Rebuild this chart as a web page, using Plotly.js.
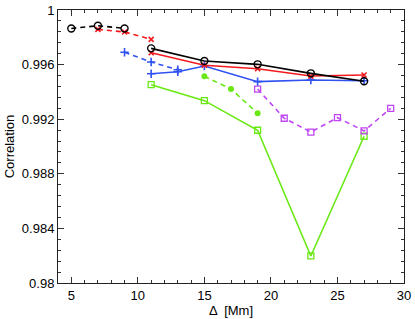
<!DOCTYPE html>
<html>
<head>
<meta charset="utf-8">
<script src="https://cdn.plot.ly/plotly-3.0.1.min.js"></script>
<style>html,body{margin:0;padding:0;background:#fff;}#chart{width:415px;height:319px;}</style>
</head>
<body>
<div id="chart"></div>
<script>
// Data
const blackDashX = [5, 7, 9];
const blackDashY = [0.99865, 0.99885, 0.99865];
const blackSolidX = [11, 15, 19, 23, 27];
const blackSolidY = [0.99719, 0.99626, 0.99602, 0.99536, 0.99478];

const redDashX = [7, 9, 11];
const redDashY = [0.99858, 0.99839, 0.99785];
const redSolidX = [11, 15, 19, 23, 27];
const redSolidY = [0.99687, 0.99595, 0.99570, 0.99516, 0.99524];

const blueDashX = [9, 11, 13];
const blueDashY = [0.99690, 0.99619, 0.99562];
const blueSolidX = [11, 13, 15, 19, 23, 27];
const blueSolidY = [0.99533, 0.99548, 0.99590, 0.99475, 0.99487, 0.99482];

const greenDashX = [15, 17, 19];
const greenDashY = [0.99514, 0.99421, 0.99243];
const greenSolidX = [11, 15, 19, 23, 27];
const greenSolidY = [0.99453, 0.99336, 0.99119, 0.98198, 0.99075];

const purpleDashX = [19, 21, 23, 25, 27, 29];
const purpleDashY = [0.99421, 0.99207, 0.99106, 0.99211, 0.99114, 0.99280];

const xTicks = [5, 10, 15, 20, 25, 30];
const yTicks = [0.98, 0.984, 0.988, 0.992, 0.996, 1];
const yTickText = ['0.98', '0.984', '0.988', '0.992', '0.996', '1'];

const BLACK = '#000000', RED = '#f5191e', BLUE = '#2f52f0', GREEN = '#6ae814', PURPLE = '#bf45f5';
const DASH = '5px,4px';

function tr(x, y, color, dash, symbol, msize, mlw) {
  return {
    x: x, y: y, type: 'scatter', mode: 'lines+markers',
    line: {color: color, width: 1.6, dash: dash},
    marker: {symbol: symbol, size: msize, color: color, line: {color: color, width: mlw}},
    showlegend: false, hoverinfo: 'skip'
  };
}

const data = [
  tr(greenSolidX, greenSolidY, GREEN, 'solid', 'square-open', 6, 1.3),
  tr(greenDashX, greenDashY, GREEN, DASH, 'circle', 6, 0),
  tr(purpleDashX, purpleDashY, PURPLE, DASH, 'square-open', 6, 1.3),
  tr(blueSolidX, blueSolidY, BLUE, 'solid', 'cross-thin-open', 6, 1.6),
  tr(blueDashX, blueDashY, BLUE, DASH, 'cross-thin-open', 6, 1.6),
  tr(redSolidX, redSolidY, RED, 'solid', 'x-thin-open', 5, 1.6),
  tr(redDashX, redDashY, RED, DASH, 'x-thin-open', 5, 1.6),
  tr(blackSolidX, blackSolidY, BLACK, 'solid', 'circle-open', 7, 1.4),
  tr(blackDashX, blackDashY, BLACK, DASH, 'circle-open', 7, 1.4)
];

const font = {family: 'Liberation Sans, Arial, sans-serif', size: 13, color: '#000'};

const layout = {
  width: 415, height: 319,
  margin: {l: 58, r: 11, t: 10, b: 36, pad: 0},
  paper_bgcolor: '#fff', plot_bgcolor: '#fff',
  font: font,
  xaxis: {
    range: [4, 30], tickvals: xTicks, ticks: 'inside', ticklen: 6, tickcolor: '#333',
    minor: {dtick: 1, tick0: 0, ticks: 'inside', ticklen: 3, tickcolor: '#333', showgrid: false},
    showline: true, linecolor: '#222', linewidth: 1, mirror: 'allticks',
    showgrid: false, zeroline: false,
    title: {text: 'Δ  [Mm]', font: font, standoff: 2},
    tickfont: font
  },
  yaxis: {
    range: [0.98, 1], tickvals: yTicks, ticktext: yTickText, ticks: 'inside', ticklen: 6, tickcolor: '#333',
    minor: {dtick: 0.0008, tick0: 0.98, ticks: 'inside', ticklen: 3, tickcolor: '#333', showgrid: false},
    showline: true, linecolor: '#222', linewidth: 1, mirror: 'allticks',
    showgrid: false, zeroline: false,
    title: {text: 'Correlation', font: font, standoff: 4},
    tickfont: font
  }
};

Plotly.newPlot('chart', data, layout, {staticPlot: true, displayModeBar: false});
</script>
</body>
</html>
